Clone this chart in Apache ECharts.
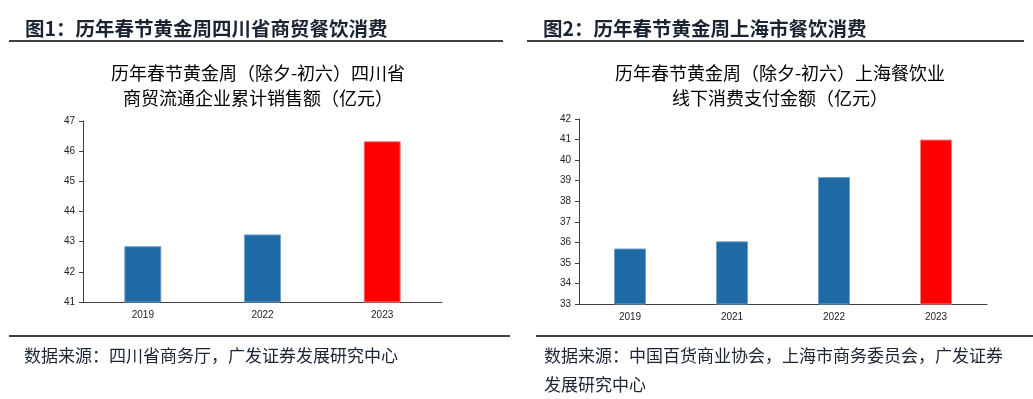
<!DOCTYPE html>
<html>
<head>
<meta charset="utf-8">
<script src="https://cdn.jsdelivr.net/npm/echarts@6/dist/echarts.min.js"></script>
<style>
  html, body { margin: 0; padding: 0; background: #fff; }
  #chart { width: 1033px; height: 399px; }
</style>
</head>
<body>
<div id="chart"></div>
<script>
// 图1 四川省商贸流通企业累计销售额（亿元）
var scYears = ['2019', '2022', '2023']
var scValues = [42.85, 43.24, 46.33]
// 图2 上海餐饮业线下消费支付金额（亿元）
var shYears = ['2019', '2021', '2022', '2023']
var shValues = [35.7, 36.05, 39.18, 41.0]

var BLUE = '#1f69a4'
var RED = '#ff0000'
var CJK = '"Noto Sans CJK SC", sans-serif'

function barData(vals) {
  // 最后一年标红
  return vals.map(function (v, i) {
    var last = i === vals.length - 1
    return {
      value: v,
      itemStyle: {
        color: last ? RED : BLUE,
        borderColor: last ? '#ff8080' : '#6fa3cf',
        borderWidth: 1
      }
    }
  })
}

var axisLine = { lineStyle: { color: '#404040', width: 1 } }
var axisLabel = { color: '#222', fontSize: 10, fontFamily: 'Liberation Sans, Arial' }

var chart = echarts.init(document.getElementById('chart'))
chart.setOption({
  animation: false,
  title: [
    { text: '图1：历年春节黄金周四川省商贸餐饮消费', left: 20, top: 14,
      textStyle: { fontFamily: CJK, fontSize: 19.5, fontWeight: 'bold', color: '#1b2433' } },
    { text: '图2：历年春节黄金周上海市餐饮消费', left: 538, top: 14,
      textStyle: { fontFamily: CJK, fontSize: 19.5, fontWeight: 'bold', color: '#1b2433' } },
    { text: '历年春节黄金周（除夕-初六）四川省\n商贸流通企业累计销售额（亿元）', left: 253, top: 56, textAlign: 'center',
      textStyle: { fontFamily: CJK, fontSize: 18, fontWeight: 'normal', color: '#000', lineHeight: 25 } },
    { text: '历年春节黄金周（除夕-初六）上海餐饮业\n线下消费支付金额（亿元）', left: 775, top: 56, textAlign: 'center',
      textStyle: { fontFamily: CJK, fontSize: 18, fontWeight: 'normal', color: '#000', lineHeight: 25 } },
    { text: '数据来源：四川省商务厅，广发证券发展研究中心', left: 19, top: 342,
      textStyle: { fontFamily: CJK, fontSize: 17, fontWeight: 'normal', color: '#1b2433' } },
    { text: '数据来源：中国百货商业协会，上海市商务委员会，广发证券\n发展研究中心', left: 539, top: 336,
      textStyle: { fontFamily: CJK, fontSize: 17, fontWeight: 'normal', color: '#1b2433', lineHeight: 29 } }
  ],
  graphic: [
    { type: 'line', shape: { x1: 9, y1: 41, x2: 503, y2: 41 }, style: { stroke: '#000', lineWidth: 1.5 } },
    { type: 'line', shape: { x1: 527, y1: 41, x2: 1024, y2: 41 }, style: { stroke: '#000', lineWidth: 1.5 } },
    { type: 'line', shape: { x1: 9, y1: 336, x2: 510, y2: 336 }, style: { stroke: '#000', lineWidth: 1.5 } },
    { type: 'line', shape: { x1: 536, y1: 336, x2: 1033, y2: 336 }, style: { stroke: '#000', lineWidth: 1.5 } }
  ],
  grid: [
    { left: 83, top: 121, width: 359, height: 181 },
    { left: 579, top: 119, width: 408, height: 185 }
  ],
  xAxis: [
    { type: 'category', gridIndex: 0, data: scYears, axisLine: axisLine,
      axisTick: { length: 4, lineStyle: { color: '#404040' } }, axisLabel: axisLabel },
    { type: 'category', gridIndex: 1, data: shYears, axisLine: axisLine,
      axisTick: { length: 4, lineStyle: { color: '#404040' } }, axisLabel: axisLabel }
  ],
  yAxis: [
    { type: 'value', gridIndex: 0, min: 41, max: 47, interval: 1,
      axisLine: Object.assign({ show: true }, axisLine),
      axisTick: { show: true, length: 4, lineStyle: { color: '#404040' } },
      axisLabel: Object.assign({ margin: 8 }, axisLabel), splitLine: { show: false } },
    { type: 'value', gridIndex: 1, min: 33, max: 42, interval: 1,
      axisLine: Object.assign({ show: true }, axisLine),
      axisTick: { show: true, length: 4, lineStyle: { color: '#404040' } },
      axisLabel: Object.assign({ margin: 8 }, axisLabel), splitLine: { show: false } }
  ],
  series: [
    { type: 'bar', xAxisIndex: 0, yAxisIndex: 0, barWidth: 37, data: barData(scValues) },
    { type: 'bar', xAxisIndex: 1, yAxisIndex: 1, barWidth: 32, data: barData(shValues) }
  ]
})
</script>
</body>
</html>
